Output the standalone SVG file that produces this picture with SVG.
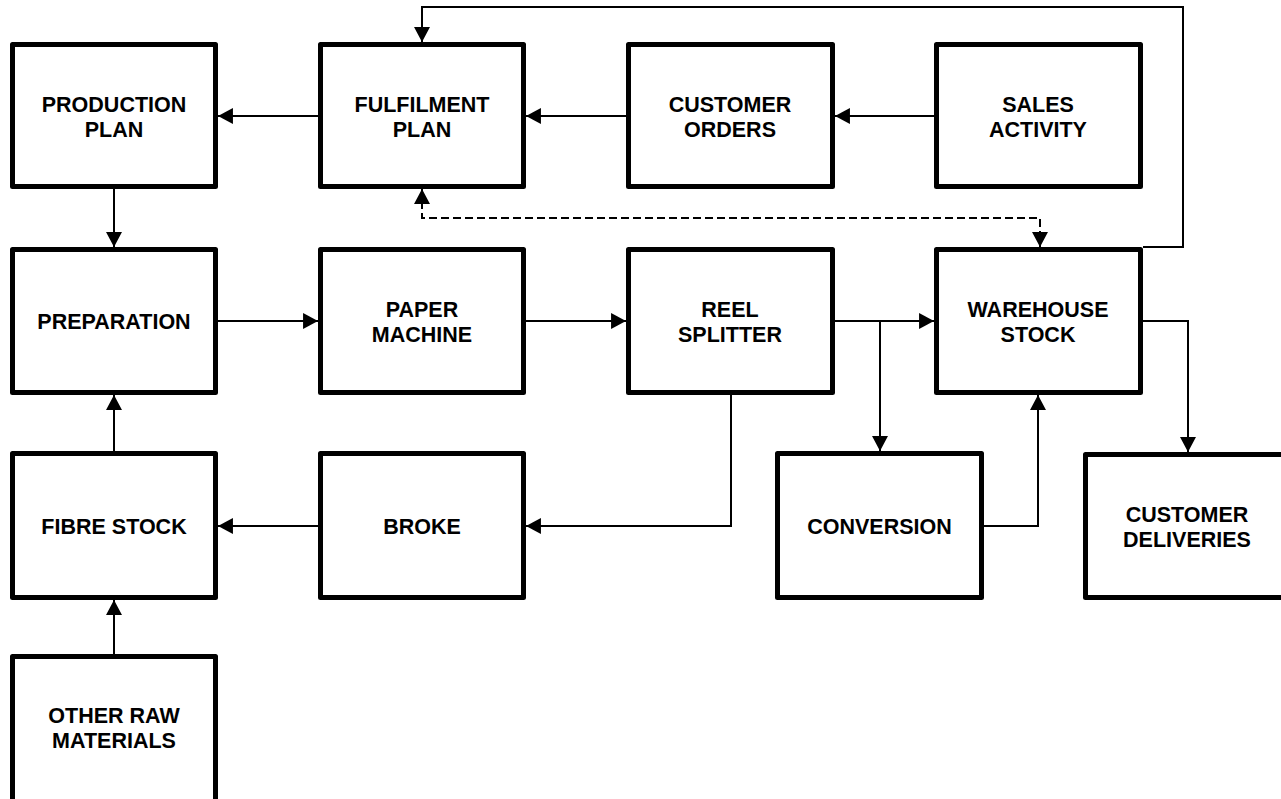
<svg xmlns="http://www.w3.org/2000/svg" width="1281" height="799" viewBox="0 0 1281 799">
<style>
.box{fill:#fff;stroke:#000;stroke-width:5;stroke-linejoin:round}
.lbl{font-family:"Liberation Sans",Arial,sans-serif;font-weight:bold;font-size:21.5px;fill:#000;text-anchor:middle}
.ln{fill:none;stroke:#000;stroke-width:2}
.dash{fill:none;stroke:#000;stroke-width:2;stroke-dasharray:8,4}
</style>
<defs>
<marker id="ah" markerUnits="userSpaceOnUse" markerWidth="16" markerHeight="16" viewBox="0 0 14 15" refX="14" refY="7.5" orient="auto-start-reverse">
<path d="M0,0 L14,7.5 L0,15 Z" fill="#000"/>
</marker>
</defs>
<rect width="1281" height="799" fill="#fff"/>
<g id="connectors">
<path class="ln" d="M318,116 H218" marker-end="url(#ah)"/>
<path class="ln" d="M626,116 H526" marker-end="url(#ah)"/>
<path class="ln" d="M934,116 H835" marker-end="url(#ah)"/>
<path class="ln" d="M114,189 V247" marker-end="url(#ah)"/>
<path class="ln" d="M218,321 H318" marker-end="url(#ah)"/>
<path class="ln" d="M526,321 H626" marker-end="url(#ah)"/>
<path class="ln" d="M835,321 H934" marker-end="url(#ah)"/>
<path class="ln" d="M880,321 V451" marker-end="url(#ah)"/>
<path class="ln" d="M1143,321 H1188 V452" marker-end="url(#ah)"/>
<path class="ln" d="M984,526 H1038 V395" marker-end="url(#ah)"/>
<path class="ln" d="M731,395 V526 H526" marker-end="url(#ah)"/>
<path class="ln" d="M318,526 H218" marker-end="url(#ah)"/>
<path class="ln" d="M114,451 V395" marker-end="url(#ah)"/>
<path class="ln" d="M114,654 V600" marker-end="url(#ah)"/>
<path class="ln" d="M1143,247 H1183 V7 H422 V42" marker-end="url(#ah)"/>
<path class="dash" d="M422,189 V218 H1040 V247" marker-start="url(#ah)" marker-end="url(#ah)"/>
</g>
<g id="production-plan"><rect class="box" x="12.5" y="44.5" width="203" height="142"/><text class="lbl" x="114" y="111.5">PRODUCTION</text><text class="lbl" x="114" y="136.5">PLAN</text></g>
<g id="fulfilment-plan"><rect class="box" x="320.5" y="44.5" width="203" height="142"/><text class="lbl" x="422" y="111.5">FULFILMENT</text><text class="lbl" x="422" y="136.5">PLAN</text></g>
<g id="customer-orders"><rect class="box" x="628.5" y="44.5" width="204" height="142"/><text class="lbl" x="730" y="111.5">CUSTOMER</text><text class="lbl" x="730" y="136.5">ORDERS</text></g>
<g id="sales-activity"><rect class="box" x="936.5" y="44.5" width="204" height="142"/><text class="lbl" x="1038" y="111.5">SALES</text><text class="lbl" x="1038" y="136.5">ACTIVITY</text></g>
<g id="preparation"><rect class="box" x="12.5" y="249.5" width="203" height="143"/><text class="lbl" x="114" y="329">PREPARATION</text></g>
<g id="paper-machine"><rect class="box" x="320.5" y="249.5" width="203" height="143"/><text class="lbl" x="422" y="317">PAPER</text><text class="lbl" x="422" y="342">MACHINE</text></g>
<g id="reel-splitter"><rect class="box" x="628.5" y="249.5" width="204" height="143"/><text class="lbl" x="730" y="317">REEL</text><text class="lbl" x="730" y="342">SPLITTER</text></g>
<g id="warehouse-stock"><rect class="box" x="936.5" y="249.5" width="204" height="143"/><text class="lbl" x="1038" y="317">WAREHOUSE</text><text class="lbl" x="1038" y="342">STOCK</text></g>
<g id="fibre-stock"><rect class="box" x="12.5" y="453.5" width="203" height="144"/><text class="lbl" x="114" y="533.5">FIBRE STOCK</text></g>
<g id="broke"><rect class="box" x="320.5" y="453.5" width="203" height="144"/><text class="lbl" x="422" y="533.5">BROKE</text></g>
<g id="conversion"><rect class="box" x="777.5" y="453.5" width="204" height="144"/><text class="lbl" x="879.5" y="533.5">CONVERSION</text></g>
<g id="customer-deliveries"><rect class="box" x="1085.5" y="454.5" width="204" height="143"/><text class="lbl" x="1187" y="521.5">CUSTOMER</text><text class="lbl" x="1187" y="546.5">DELIVERIES</text></g>
<g id="other-raw-materials"><rect class="box" x="12.5" y="656.5" width="203" height="160"/><text class="lbl" x="114" y="722.5">OTHER RAW</text><text class="lbl" x="114" y="747.5">MATERIALS</text></g>
</svg>
